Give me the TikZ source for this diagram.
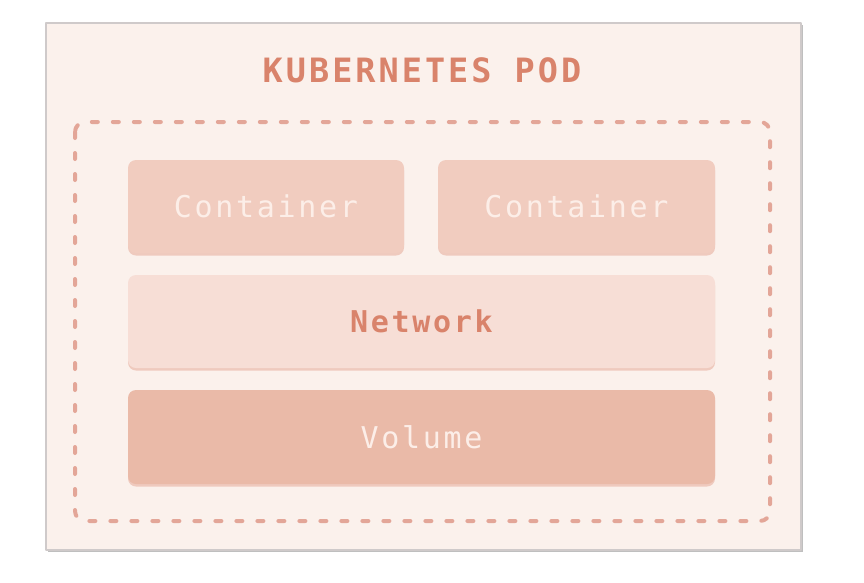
\documentclass[tikz,border=0pt]{standalone}
\usepackage{fontspec}
\usetikzlibrary{shadows}
\newfontfamily\podmono[LetterSpace=9]{DejaVu Sans Mono}
\definecolor{podbg}{HTML}{FBF1EC}
\definecolor{podedge}{HTML}{CFCACA}
\definecolor{podtxt}{HTML}{D9836B}
\definecolor{poddash}{HTML}{E3A698}
\definecolor{ctrfill}{HTML}{F1CCBF}
\definecolor{netfill}{HTML}{F7DED6}
\definecolor{volfill}{HTML}{EABAA8}
\definecolor{lighttxt}{HTML}{FCEEE8}
\begin{document}
\begin{tikzpicture}[x=1pt,y=-1pt,line join=round,
	layer/.style={rounded corners=8pt,minimum height=93pt,inner sep=0pt,font=\podmono\fontsize{30}{34}\selectfont,
		drop shadow={shadow xshift=0pt,shadow yshift=-2.5pt,fill=podtxt,opacity=0.35}}]
	\useasboundingbox (0,0) rectangle (864,582);
	\node[draw=podedge,line width=2pt,fill=podbg,minimum width=755pt,minimum height=527pt,inner sep=0pt,
		drop shadow={shadow xshift=2pt,shadow yshift=-2pt,fill=gray,opacity=0.5}] (pod) at (423.5,286.5) {};
	\node[text=podtxt,font=\podmono\bfseries\fontsize{33.5}{38}\selectfont] (title) at (422,70) {KUBERNETES POD};
	\draw[poddash,line width=4pt,line cap=round,dash pattern=on 6pt off 15pt,rounded corners=10pt] (75,122) rectangle (770,521);
	\node[layer,fill=ctrfill,text=lighttxt,minimum width=276pt] (ctra) at (266,206.5) {Container};
	\node[layer,fill=ctrfill,text=lighttxt,minimum width=277pt] (ctrb) at (576.5,206.5) {Container};
	\node[layer,fill=netfill,text=podtxt,minimum width=587pt,font=\podmono\bfseries\fontsize{30}{34}\selectfont] (net) at (421.5,321.5) {Network};
	\node[layer,fill=volfill,text=lighttxt,minimum width=587pt,minimum height=94pt] (vol) at (421.5,437) {Volume};
\end{tikzpicture}
\end{document}
